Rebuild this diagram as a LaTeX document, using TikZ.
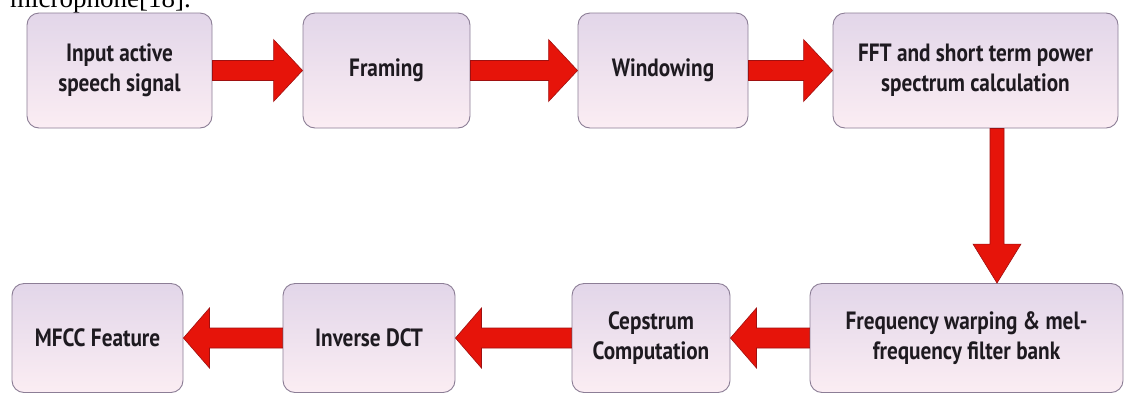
\documentclass[tikz,border=0pt]{standalone}
\usepackage{fontspec}
\usetikzlibrary{calc}
\newfontfamily\boxfont{PT Sans}[FakeStretch=0.85]
\newfontfamily\capfont{Liberation Serif}
\definecolor{boxline}{RGB}{140,126,150}
\definecolor{boxtop}{RGB}{226,214,233}
\definecolor{boxbot}{RGB}{251,237,243}
\definecolor{arrowfill}{RGB}{230,20,10}
\definecolor{arrowline}{RGB}{160,16,16}
\definecolor{inktext}{RGB}{30,26,32}
\tikzset{
  stage/.style={draw=boxline, line width=0.9pt, rounded corners=12pt,
    top color=boxtop, bottom color=boxbot, align=center,
    text=inktext, font=\boxfont\bfseries\fontsize{25}{30}\selectfont,
    inner sep=0pt},
  fatarrow/.style={fill=arrowfill, draw=arrowline, line width=0.6pt, line join=miter}
}
% wide block arrow pointing right from the east side of #1 to the west side of #2
\newcommand\rightfat[2]{%
  \filldraw[fatarrow] let \p1=(#1.east), \p2=(#2.west) in
    (\x1,\y1+10pt) -- (\x2-29pt,\y1+10pt) -- (\x2-29pt,\y1+31pt) -- (\x2,\y1)
    -- (\x2-29pt,\y1-31pt) -- (\x2-29pt,\y1-10pt) -- (\x1,\y1-10pt) -- cycle;}
% wide block arrow pointing left from the west side of #1 to the east side of #2
\newcommand\leftfat[2]{%
  \filldraw[fatarrow] let \p1=(#1.west), \p2=(#2.east) in
    (\x1,\y1+10pt) -- (\x2+26pt,\y1+10pt) -- (\x2+26pt,\y1+30pt) -- (\x2,\y1)
    -- (\x2+26pt,\y1-30pt) -- (\x2+26pt,\y1-10pt) -- (\x1,\y1-10pt) -- cycle;}
\begin{document}
\begin{tikzpicture}[x=1pt, y=-1pt]
\useasboundingbox (0,0) rectangle (1129,392);
\clip (0,0) rectangle (1129,392);
\fill[white] (0,0) rectangle (1129,392);

% tail of the preceding sentence
\node[anchor=base west, inner sep=0pt, font=\capfont\fontsize{27}{30}\selectfont]
  (prev) at (10,7) {microphone[18].};

% upper row
\node[stage, minimum width=185pt, minimum height=115pt] (b1) at (119.5,70.5)
  {Input active\\speech signal};
\node[stage, minimum width=167pt, minimum height=115pt] (b2) at (386.5,70.5)
  {Framing};
\node[stage, minimum width=170pt, minimum height=115pt] (b3) at (663,70.5)
  {Windowing};
\node[stage, minimum width=285pt, minimum height=115pt] (b4) at (975.5,70.5)
  {FFT and short term power\\spectrum calculation};

% lower row
\node[stage, minimum width=171pt, minimum height=109pt] (c1) at (97.5,338)
  {MFCC Feature};
\node[stage, minimum width=172pt, minimum height=109pt] (c2) at (369,338)
  {Inverse DCT};
\node[stage, minimum width=158pt, minimum height=109pt] (c3) at (651,338)
  {Cepstrum\\Computation};
\node[stage, minimum width=313pt, minimum height=109pt] (c4) at (966.5,338)
  {Frequency warping \& mel-\\frequency filter bank};

% connectors
\rightfat{b1}{b2}
\rightfat{b2}{b3}
\rightfat{b3}{b4}
\leftfat{c4}{c3}
\leftfat{c3}{c2}
\leftfat{c2}{c1}

\coordinate (vx) at (997,0);
\filldraw[fatarrow] let \p1=(b4.south -| vx), \p2=(c4.north -| vx) in
  (\x1-7pt,\y1) -- (\x1-7pt,\y2+39pt) -- (\x1-24pt,\y2+39pt) -- (\x2,\y2)
  -- (\x1+24pt,\y2+39pt) -- (\x1+7pt,\y2+39pt) -- (\x1+7pt,\y1) -- cycle;
\end{tikzpicture}
\end{document}
